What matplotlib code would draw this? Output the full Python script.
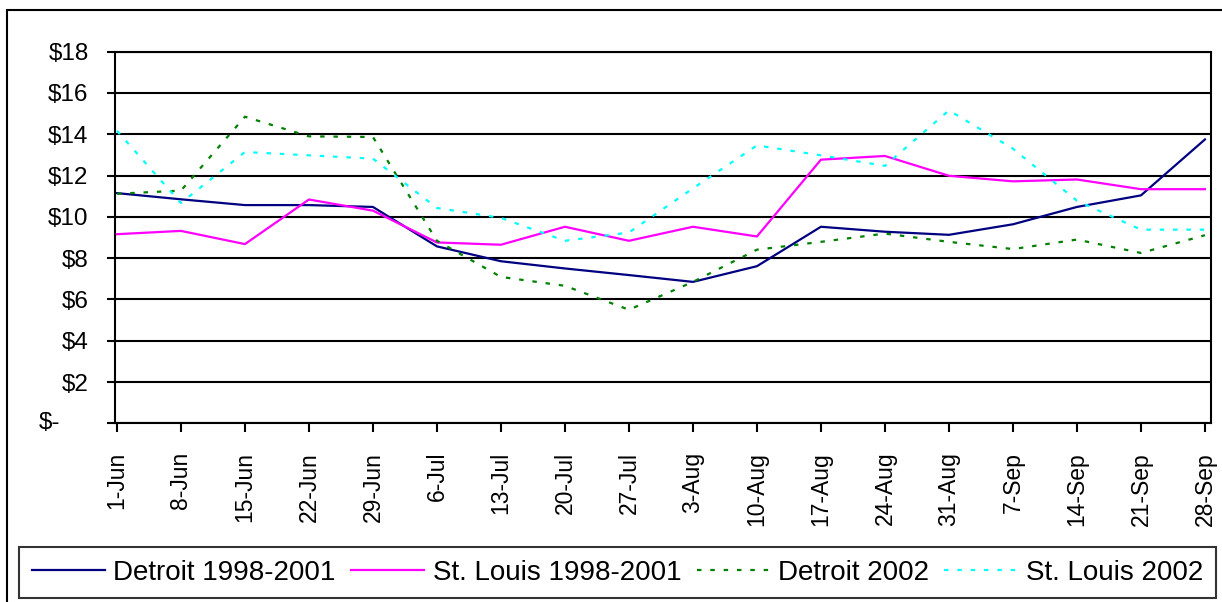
import matplotlib
matplotlib.use("Agg")
import matplotlib.pyplot as plt
from matplotlib.patches import Rectangle

plt.rcParams['font.family'] = ['Liberation Sans', 'DejaVu Sans']

weeks = ["1-Jun", "8-Jun", "15-Jun", "22-Jun", "29-Jun", "6-Jul", "13-Jul", "20-Jul",
         "27-Jul", "3-Aug", "10-Aug", "17-Aug", "24-Aug", "31-Aug", "7-Sep", "14-Sep",
         "21-Sep", "28-Sep"]

detroit_9801 = [11.15, 10.85, 10.57, 10.57, 10.48, 8.57, 7.85, 7.50, 7.18, 6.85,
                7.61, 9.52, 9.28, 9.13, 9.64, 10.48, 11.04, 13.75]
stlouis_9801 = [9.16, 9.32, 8.68, 10.84, 10.30, 8.76, 8.65, 9.52, 8.84, 9.52,
                9.05, 12.77, 12.95, 11.99, 11.72, 11.81, 11.34, 11.34]
detroit_2002 = [11.12, 11.27, 14.85, 13.90, 13.87, 8.84, 7.09, 6.66, 5.50, 6.85,
                8.41, 8.79, 9.19, 8.79, 8.44, 8.90, 8.25, 9.11]
stlouis_2002 = [14.17, 10.67, 13.14, 12.98, 12.82, 10.43, 9.95, 8.84, 9.24, 11.38,
                13.46, 12.98, 12.47, 15.16, 13.30, 10.78, 9.38, 9.38]

series_names = ["Detroit 1998-2001", "St. Louis 1998-2001", "Detroit 2002", "St. Louis 2002"]
y_ticks = [0, 2, 4, 6, 8, 10, 12, 14, 16, 18]
y_labels = ["$-", "$2", "$4", "$6", "$8", "$10", "$12", "$14", "$16", "$18"]

W, H = 1222, 602
fig = plt.figure(figsize=(W / 100, H / 100), dpi=100)
fig.patch.set_facecolor("white")

# outer chart border (left and top visible)
fig.add_artist(Rectangle((7 / W, -0.05), 1.2, 1 - 10 / H + 0.05, transform=fig.transFigure,
                         fill=False, edgecolor="black", linewidth=1.5))

left, right, top, bottom = 115, 1210.7, 51.7, 423.3
ax = fig.add_axes([left / W, 1 - bottom / H, (right - left) / W, (bottom - top) / H])

x = list(range(len(weeks)))
lw_solid = 1.6
ax.plot(x, detroit_9801, color="#000080", linewidth=lw_solid, label=series_names[0], zorder=5)
ax.plot(x, stlouis_9801, color="#FF00FF", linewidth=lw_solid, label=series_names[1], zorder=5)
ax.plot(x, detroit_2002, color="#008000", linewidth=1.6, linestyle=(0, (2, 4)),
        label=series_names[2], zorder=5)
ax.plot(x, stlouis_2002, color="#00FFFF", linewidth=1.6, linestyle=(0, (2, 4)),
        label=series_names[3], zorder=5)

ax.set_xlim(-0.03, 17.09)
ax.set_ylim(0, 18)
ax.set_yticks(y_ticks)
ax.set_yticklabels([""] + y_labels[1:])
ax.text(-0.0502, 0, y_labels[0], transform=ax.get_yaxis_transform(), ha="right", va="center",
        fontsize=17.5)
ax.set_xticks(x)
ax.set_xticklabels(weeks, rotation=90, fontsize=16.5)
ax.tick_params(axis="y", labelsize=17.5, direction="out", length=6, width=1.5, pad=13)
ax.tick_params(axis="x", direction="out", length=6.5, width=1.5, pad=14)
ax.grid(axis="y", color="black", linewidth=1.5)
ax.set_axisbelow(True)
for s in ax.spines.values():
    s.set_linewidth(1.5)
    s.set_color("black")

leg = fig.legend(loc="center", bbox_to_anchor=((17 + 1218) / 2 / W, 1 - (547 + 598) / 2 / H),
                 ncol=4, fontsize=20, frameon=True, fancybox=False, edgecolor="black",
                 handlelength=2.64, handletextpad=0.3, columnspacing=0.55, borderpad=0.45,
                 borderaxespad=0)
leg.get_frame().set_linewidth(1.5)

fig.savefig("out.png", dpi=100, facecolor="white")
